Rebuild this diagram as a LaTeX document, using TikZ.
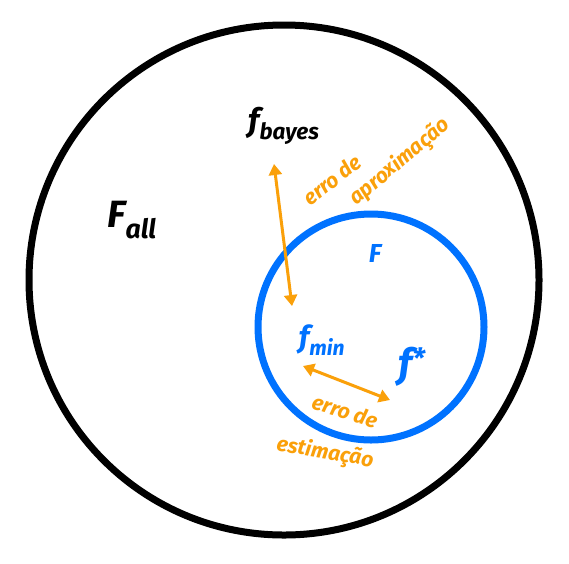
\documentclass[tikz,border=0pt]{standalone}
\usepackage{fontspec}
\setmainfont{Fira Sans}
\usetikzlibrary{arrows.meta}
\definecolor{inkblue}{RGB}{0,114,255}
\definecolor{inkorange}{RGB}{250,160,10}
\begin{document}
\begin{tikzpicture}[x=1pt,y=-1pt,
  setline/.style={line width=7pt},
  blacklabel/.style={text=black,font=\fontsize{38}{40}\selectfont\itshape\bfseries},
  bluelabel/.style={text=inkblue,font=\fontsize{30}{32}\selectfont\itshape\bfseries},
  orangelabel/.style={text=inkorange,inner sep=1pt,font=\fontsize{21}{23}\selectfont\itshape\bfseries},
  errarrow/.style={draw=inkorange,line width=3pt,{Triangle[length=11pt,width=13pt]}-{Triangle[length=11pt,width=13pt]}}]
\useasboundingbox (0,0) rectangle (569,563);
\fill[white] (0,0) rectangle (569,563);

% the two sets of functions
\draw[setline,black] (284,280) circle[radius=255];
\draw[setline,inkblue] (371,327) circle[radius=113];

% labels
\node[blacklabel] (fall) at (132,220) {F\textsubscript{all}};
\node[blacklabel,font=\fontsize{32}{34}\selectfont\itshape\bfseries] (fbayes) at (284,126) {f\textsubscript{bayes}};
\node[bluelabel,font=\fontsize{26}{28}\selectfont\itshape\bfseries] (F) at (375,253) {F};
\node[bluelabel] (fmin) at (322,340) {f\textsubscript{min}};
\node[bluelabel,font=\fontsize{40}{42}\selectfont\itshape\bfseries] (fstar) at (412,367) {f\textsuperscript{*}};

% arrow end points
\coordinate (a1) at (274,164);
\coordinate (a2) at (292,306);
\coordinate (b1) at (303,366);
\coordinate (b2) at (390,400);

\draw[errarrow] (a1) -- (a2);
\draw[errarrow] (b1) -- (b2);

\node[orangelabel,rotate=38] (ea1) at (332,180) {erro de};
\node[orangelabel,rotate=40] (ea2) at (400,162) {aproximação};
\node[orangelabel,rotate=-17] (ee1) at (345,411) {erro de};
\node[orangelabel,rotate=-10] (ee2) at (325,453) {estimação};
\end{tikzpicture}
\end{document}
